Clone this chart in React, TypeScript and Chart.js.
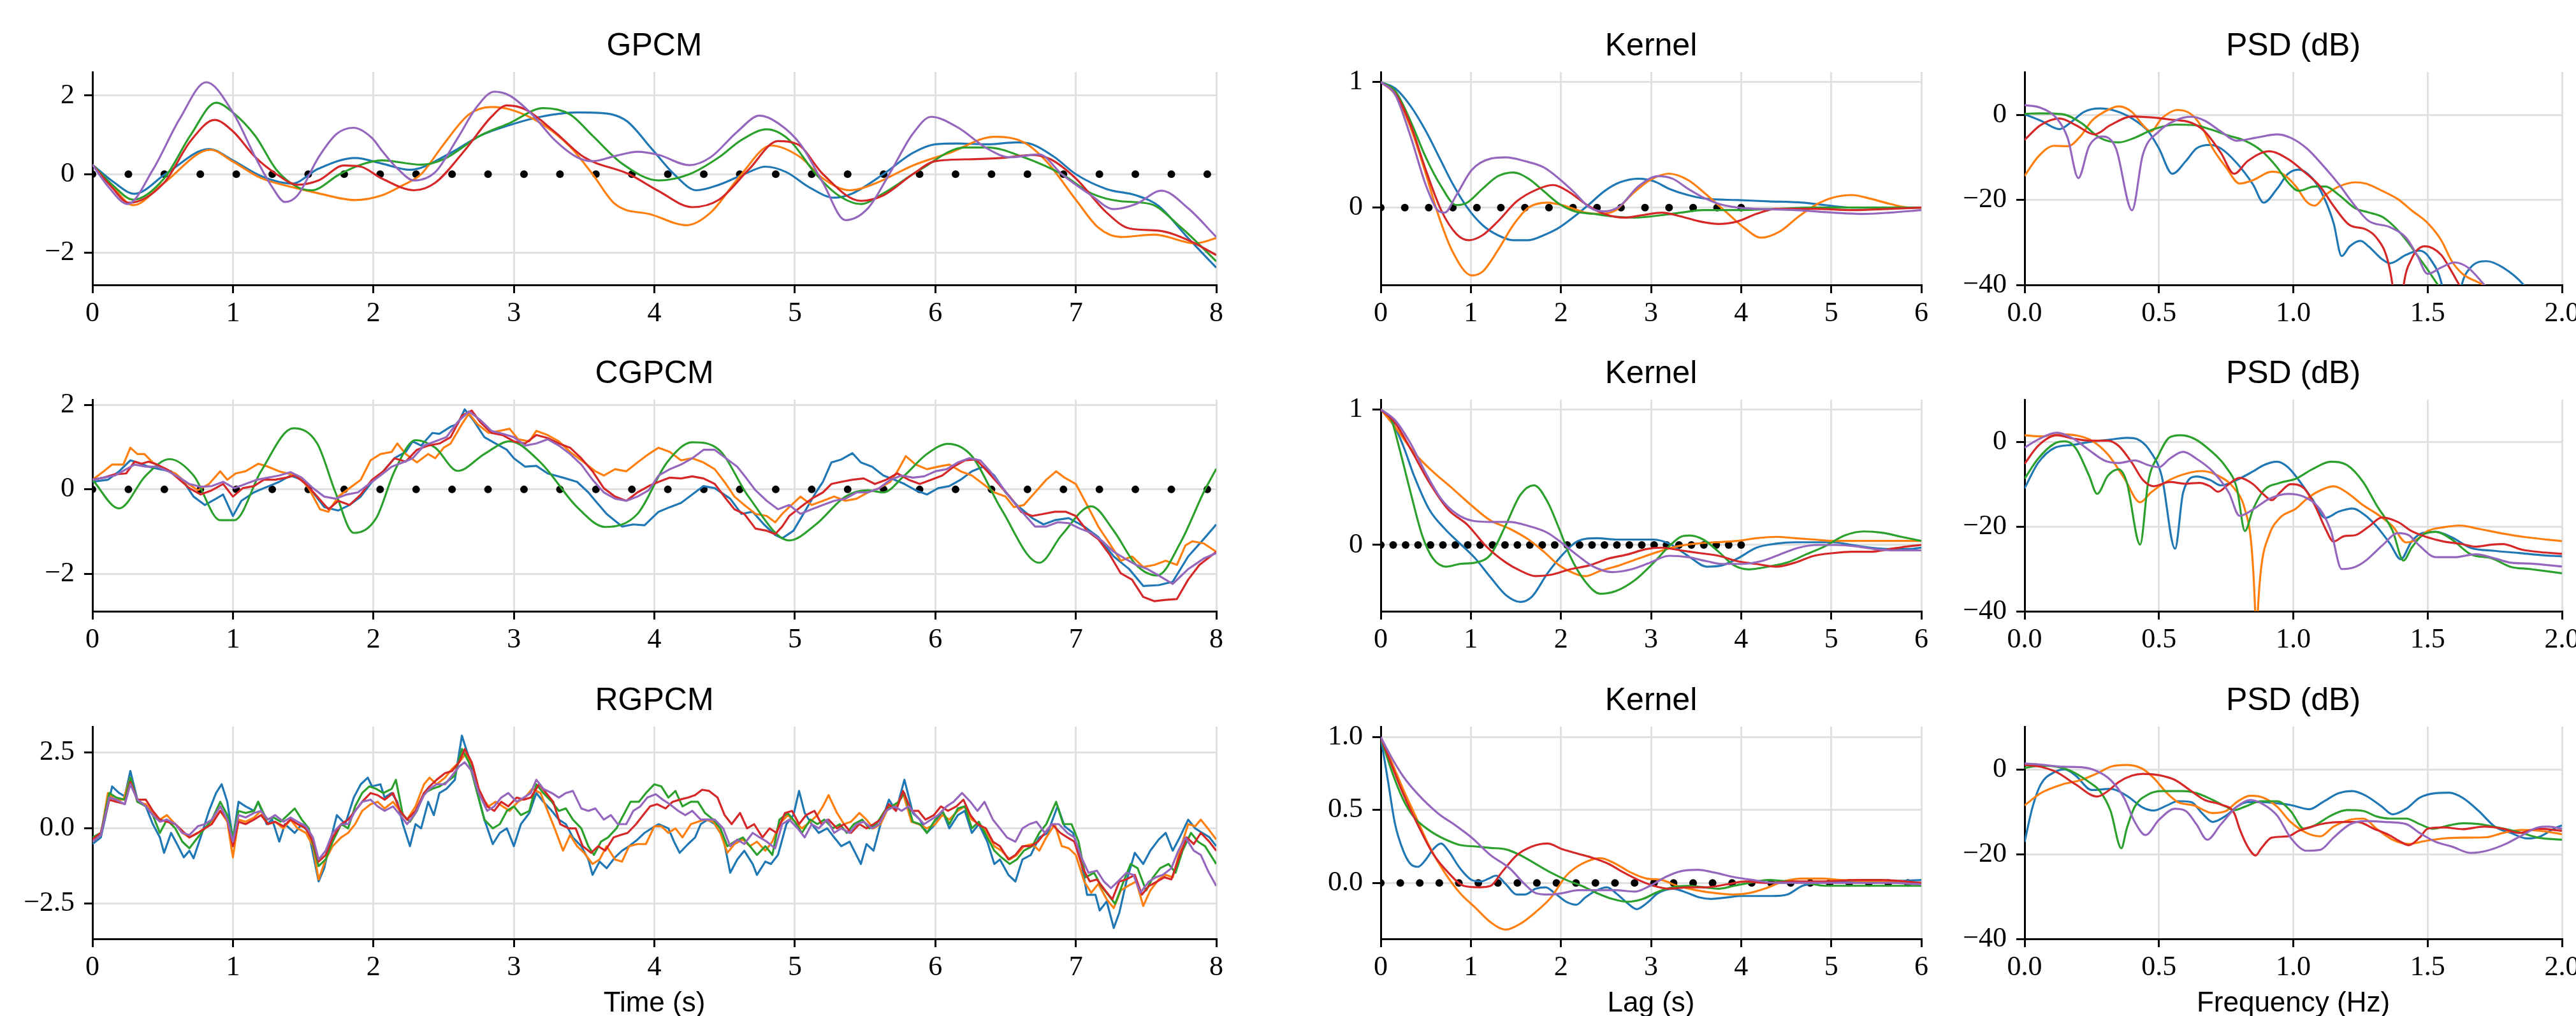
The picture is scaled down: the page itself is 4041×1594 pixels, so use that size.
import React, { useEffect, useRef } from 'react';
import { Chart, registerables } from 'chart.js';
Chart.register(...registerables);

type P = [number, number][];

// ---------------- GPCM (time) ----------------
const gpcmBlue: P = [[0,0.24],[0.15,-0.2],[0.3,-0.5],[0.52,0],[0.83,0.64],[1.0,0.35],[1.2,-0.05],[1.42,-0.24],[1.61,0.14],[1.87,0.41],[2.06,0.27],[2.26,0.11],[2.55,0.54],[2.76,0.98],[2.97,1.25],[3.19,1.46],[3.45,1.57],[3.61,1.56],[3.8,1.36],[3.98,0.65],[4.14,0],[4.3,-0.41],[4.46,-0.27],[4.67,0.05],[4.79,0.19],[4.94,0.05],[5.1,-0.33],[5.28,-0.6],[5.41,-0.49],[5.63,0],[5.84,0.54],[6.0,0.76],[6.16,0.78],[6.37,0.76],[6.58,0.81],[6.69,0.76],[6.85,0.43],[7.0,0],[7.22,-0.38],[7.43,-0.54],[7.59,-0.81],[7.8,-1.63],[8.0,-2.38]];
const gpcmOrange: P = [[0,0.24],[0.15,-0.35],[0.29,-0.79],[0.51,-0.22],[0.84,0.62],[1.0,0.32],[1.2,-0.1],[1.42,-0.33],[1.61,-0.49],[1.87,-0.66],[2.06,-0.54],[2.2,-0.3],[2.34,0],[2.5,0.76],[2.68,1.52],[2.84,1.71],[2.97,1.65],[3.19,1.3],[3.4,0.7],[3.56,0],[3.72,-0.76],[3.98,-1.03],[4.23,-1.3],[4.4,-0.98],[4.62,0],[4.83,0.73],[5.04,0.43],[5.2,-0.11],[5.39,-0.41],[5.57,-0.24],[5.84,0.22],[6.1,0.54],[6.42,0.95],[6.63,0.81],[6.79,0.33],[7.0,-0.65],[7.16,-1.36],[7.32,-1.6],[7.56,-1.54],[7.85,-1.76],[8.0,-1.63]];
const gpcmGreen: P = [[0,0.24],[0.15,-0.3],[0.29,-0.65],[0.51,-0.11],[0.7,1.0],[0.88,1.82],[1.0,1.57],[1.16,0.97],[1.31,0.11],[1.46,-0.33],[1.56,-0.41],[1.76,0],[1.91,0.24],[2.06,0.35],[2.34,0.24],[2.5,0.38],[2.76,0.98],[2.97,1.3],[3.21,1.68],[3.4,1.52],[3.56,0.98],[3.77,0.27],[4.03,-0.16],[4.25,0],[4.46,0.43],[4.62,0.87],[4.8,1.14],[4.96,0.87],[5.15,0],[5.31,-0.54],[5.47,-0.76],[5.63,-0.49],[5.89,0.11],[6.21,0.68],[6.37,0.68],[6.63,0.43],[6.9,0],[7.11,-0.49],[7.32,-0.69],[7.53,-0.76],[7.75,-1.36],[8.0,-2.22]];
const gpcmRed: P = [[0,0.24],[0.13,-0.3],[0.26,-0.73],[0.51,-0.22],[0.7,0.85],[0.87,1.38],[1.0,1.09],[1.16,0.43],[1.31,0],[1.46,-0.27],[1.61,-0.16],[1.79,0.22],[1.91,0.19],[2.06,-0.11],[2.29,-0.41],[2.44,-0.22],[2.66,0.65],[2.84,1.46],[2.95,1.75],[3.08,1.65],[3.29,1.08],[3.5,0.43],[3.82,0],[4.03,-0.43],[4.27,-0.84],[4.46,-0.65],[4.67,0.11],[4.88,0.84],[5.02,0.76],[5.2,0],[5.47,-0.68],[5.63,-0.54],[5.84,0],[6.0,0.33],[6.26,0.38],[6.47,0.41],[6.69,0.49],[6.82,0.38],[7.0,-0.11],[7.22,-0.98],[7.38,-1.38],[7.59,-1.44],[7.8,-1.68],[8.0,-2.06]];
const gpcmPurple: P = [[0,0.24],[0.12,-0.35],[0.25,-0.76],[0.43,0.11],[0.62,1.4],[0.81,2.34],[1.0,1.57],[1.16,0.43],[1.28,-0.33],[1.37,-0.71],[1.46,-0.54],[1.61,0.43],[1.74,1.03],[1.86,1.18],[1.99,0.92],[2.06,0.6],[2.18,0.11],[2.29,-0.16],[2.44,0.05],[2.6,0.92],[2.74,1.73],[2.86,2.1],[2.97,2.0],[3.13,1.52],[3.29,0.87],[3.45,0.43],[3.56,0.33],[3.72,0.46],[3.88,0.57],[4.03,0.49],[4.25,0.23],[4.4,0.43],[4.59,1.08],[4.75,1.49],[4.88,1.3],[5.04,0.76],[5.2,-0.22],[5.36,-1.17],[5.52,-0.87],[5.68,0.05],[5.84,1.03],[5.97,1.46],[6.16,1.19],[6.37,0.65],[6.53,0.43],[6.74,0.5],[6.9,0],[7.11,-0.54],[7.27,-0.89],[7.43,-0.76],[7.61,-0.42],[7.8,-0.87],[8.0,-1.6]];
const gpcmInducing = [0,0.256,0.512,0.768,1.024,1.28,1.536,1.792,2.048,2.304,2.56,2.816,3.072,3.328,3.584,3.84,4.096,4.352,4.608,4.864,5.12,5.376,5.632,5.888,6.144,6.4,6.656,6.912,7.168,7.424,7.68,7.936];

// ---------------- CGPCM (time) ----------------
const cgpcmBlue: P = [[0,0.18],[0.11,0.23],[0.19,0.43],[0.27,0.69],[0.32,0.64],[0.4,0.54],[0.48,0.48],[0.56,0.43],[0.64,0.23],[0.72,-0.17],[0.8,-0.37],[0.88,-0.22],[0.93,-0.12],[1.0,-0.63],[1.06,-0.27],[1.15,-0.07],[1.22,0.03],[1.33,0.18],[1.41,0.33],[1.49,0.23],[1.57,-0.07],[1.65,-0.42],[1.75,-0.5],[1.83,-0.37],[1.91,-0.17],[1.99,0.18],[2.07,0.43],[2.15,0.74],[2.23,0.89],[2.28,1.14],[2.34,1.04],[2.42,1.34],[2.47,1.32],[2.55,1.49],[2.6,1.55],[2.65,1.9],[2.71,1.65],[2.79,1.24],[2.87,1.09],[2.95,0.94],[3.0,0.74],[3.08,0.54],[3.16,0.56],[3.24,0.38],[3.35,0.28],[3.45,0.18],[3.53,-0.07],[3.58,-0.27],[3.66,-0.58],[3.77,-0.88],[3.85,-0.83],[3.93,-0.85],[4.03,-0.53],[4.11,-0.42],[4.19,-0.32],[4.27,-0.12],[4.35,0.08],[4.43,0.03],[4.54,-0.22],[4.62,-0.58],[4.7,-0.53],[4.78,-0.83],[4.86,-1.08],[4.91,-1.16],[4.99,-0.98],[5.07,-0.53],[5.15,-0.07],[5.2,0.18],[5.26,0.64],[5.33,0.71],[5.41,0.86],[5.47,0.64],[5.55,0.54],[5.63,0.33],[5.71,0.23],[5.78,0.13],[5.86,-0.02],[5.94,-0.12],[6.02,0.03],[6.1,0.08],[6.18,0.23],[6.26,0.43],[6.34,0.54],[6.42,0.33],[6.5,-0.07],[6.58,-0.37],[6.69,-0.68],[6.77,-0.83],[6.85,-0.73],[6.95,-0.68],[7.06,-0.88],[7.16,-1.13],[7.27,-1.59],[7.38,-1.89],[7.48,-2.29],[7.59,-2.27],[7.69,-2.19],[7.8,-1.59],[7.91,-1.18],[8.0,-0.83]];
const cgpcmOrange: P = [[0,0.23],[0.08,0.43],[0.14,0.59],[0.22,0.59],[0.27,0.99],[0.32,0.84],[0.37,0.84],[0.43,0.64],[0.51,0.48],[0.59,0.38],[0.66,0.18],[0.75,-0.02],[0.83,0.13],[0.91,0.43],[0.96,0.23],[1.02,0.38],[1.09,0.43],[1.18,0.61],[1.25,0.54],[1.33,0.43],[1.41,0.36],[1.46,0.33],[1.54,0.03],[1.62,-0.47],[1.68,-0.53],[1.75,-0.17],[1.83,0.03],[1.91,0.23],[1.98,0.69],[2.05,0.84],[2.13,0.89],[2.17,1.09],[2.23,0.84],[2.31,0.64],[2.39,0.84],[2.44,0.74],[2.5,0.99],[2.55,1.09],[2.63,1.55],[2.68,1.8],[2.74,1.55],[2.82,1.34],[2.9,1.39],[2.97,1.44],[3.03,1.19],[3.11,1.14],[3.16,1.39],[3.24,1.29],[3.32,1.14],[3.4,0.89],[3.5,0.64],[3.58,0.43],[3.64,0.33],[3.72,0.48],[3.8,0.43],[3.88,0.64],[3.96,0.84],[4.03,0.99],[4.11,0.89],[4.19,0.69],[4.27,0.74],[4.35,0.64],[4.43,0.48],[4.51,0.13],[4.57,-0.17],[4.64,-0.37],[4.72,-0.58],[4.8,-0.63],[4.86,-0.78],[4.91,-0.58],[4.96,-0.42],[5.04,-0.17],[5.12,-0.37],[5.2,-0.27],[5.28,-0.17],[5.36,-0.27],[5.44,-0.22],[5.52,-0.07],[5.6,0.03],[5.68,0.18],[5.73,0.43],[5.79,0.79],[5.86,0.59],[5.94,0.48],[6.02,0.54],[6.1,0.59],[6.18,0.43],[6.26,0.33],[6.34,0.13],[6.42,-0.07],[6.5,-0.17],[6.56,-0.42],[6.63,-0.37],[6.71,-0.07],[6.79,0.23],[6.86,0.43],[6.92,0.28],[7.0,0.13],[7.08,-0.37],[7.16,-0.88],[7.24,-1.28],[7.32,-1.69],[7.4,-1.59],[7.48,-1.84],[7.56,-1.79],[7.64,-1.69],[7.72,-1.79],[7.78,-1.33],[7.83,-1.23],[7.91,-1.28],[8.0,-1.48]];
const cgpcmGreen: P = [[0,0.23],[0.19,-0.45],[0.38,0.33],[0.55,0.72],[0.72,0.33],[0.91,-0.73],[1.01,-0.73],[1.2,0.43],[1.43,1.45],[1.6,1.09],[1.73,-0.07],[1.86,-1.03],[2.02,-0.68],[2.15,0.43],[2.3,1.17],[2.44,0.99],[2.6,0.44],[2.79,0.84],[2.97,1.14],[3.19,0.64],[3.45,-0.42],[3.65,-0.89],[3.88,-0.58],[4.09,0.64],[4.27,1.12],[4.46,0.94],[4.67,-0.17],[4.96,-1.21],[5.15,-0.83],[5.36,-0.17],[5.52,-0.02],[5.63,-0.07],[5.78,0.33],[5.94,0.84],[6.09,1.08],[6.26,0.79],[6.47,-0.47],[6.74,-1.74],[6.9,-1.08],[7.11,-0.4],[7.27,-0.98],[7.43,-1.79],[7.58,-2.04],[7.75,-1.23],[7.91,-0.07],[8.0,0.49]];
const cgpcmRed: P = [[0,0.23],[0.08,0.28],[0.16,0.36],[0.24,0.38],[0.3,0.66],[0.35,0.61],[0.4,0.66],[0.46,0.59],[0.54,0.46],[0.62,0.23],[0.69,0.03],[0.77,-0.12],[0.85,-0.02],[0.93,0.13],[1.0,-0.17],[1.07,0.03],[1.15,0.08],[1.22,0.23],[1.3,0.23],[1.38,0.28],[1.44,0.33],[1.52,0.13],[1.6,-0.17],[1.68,-0.47],[1.75,-0.27],[1.83,-0.37],[1.91,-0.12],[1.99,0.23],[2.07,0.43],[2.15,0.74],[2.23,0.66],[2.31,0.94],[2.39,1.04],[2.47,1.09],[2.55,1.24],[2.63,1.75],[2.7,1.87],[2.76,1.6],[2.84,1.34],[2.92,1.29],[3.0,1.14],[3.08,1.09],[3.16,1.29],[3.24,1.22],[3.32,1.09],[3.4,0.99],[3.48,0.74],[3.56,0.43],[3.64,0.03],[3.72,-0.17],[3.8,-0.27],[3.88,-0.07],[3.96,0.08],[4.03,0.18],[4.11,0.28],[4.19,0.26],[4.27,0.31],[4.35,0.26],[4.43,0.13],[4.51,-0.22],[4.57,-0.47],[4.64,-0.58],[4.72,-0.93],[4.8,-0.98],[4.86,-1.06],[4.91,-0.88],[4.96,-0.63],[5.04,-0.42],[5.12,-0.22],[5.2,-0.07],[5.26,0.13],[5.33,0.18],[5.41,0.23],[5.49,0.26],[5.57,0.13],[5.65,0.23],[5.73,0.38],[5.81,0.23],[5.89,0.13],[5.97,0.23],[6.05,0.33],[6.13,0.54],[6.21,0.69],[6.29,0.71],[6.37,0.43],[6.45,0.13],[6.53,-0.17],[6.61,-0.53],[6.69,-0.63],[6.77,-0.58],[6.85,-0.53],[6.93,-0.53],[7.0,-0.63],[7.08,-0.98],[7.16,-1.18],[7.24,-1.54],[7.32,-1.99],[7.4,-2.14],[7.48,-2.55],[7.56,-2.65],[7.64,-2.62],[7.72,-2.6],[7.8,-2.14],[7.88,-1.79],[8.0,-1.48]];
const cgpcmPurple: P = [[0,0.23],[0.08,0.28],[0.16,0.33],[0.24,0.48],[0.3,0.59],[0.38,0.54],[0.46,0.54],[0.54,0.43],[0.62,0.28],[0.69,0.13],[0.77,0.06],[0.85,0.08],[0.93,0.18],[1.01,0.03],[1.09,0.13],[1.17,0.23],[1.25,0.28],[1.33,0.33],[1.41,0.41],[1.49,0.28],[1.57,0.03],[1.65,-0.17],[1.73,-0.22],[1.81,-0.12],[1.89,-0.07],[1.97,0.13],[2.05,0.33],[2.13,0.54],[2.21,0.64],[2.28,0.74],[2.36,1.04],[2.44,1.14],[2.52,1.24],[2.6,1.6],[2.68,1.85],[2.76,1.65],[2.84,1.39],[2.92,1.32],[3.0,1.24],[3.08,1.04],[3.16,1.09],[3.24,1.19],[3.32,1.04],[3.4,0.84],[3.48,0.59],[3.56,0.23],[3.64,-0.07],[3.72,-0.22],[3.8,-0.27],[3.88,-0.17],[3.96,-0.02],[4.03,0.33],[4.11,0.48],[4.19,0.59],[4.27,0.74],[4.35,0.94],[4.43,0.94],[4.51,0.74],[4.59,0.54],[4.64,0.33],[4.72,-0.02],[4.8,-0.27],[4.88,-0.47],[4.96,-0.37],[5.04,-0.58],[5.12,-0.47],[5.2,-0.37],[5.28,-0.27],[5.36,-0.22],[5.44,-0.07],[5.52,-0.07],[5.6,0.03],[5.68,0.23],[5.76,0.33],[5.84,0.28],[5.92,0.31],[6.0,0.43],[6.08,0.48],[6.16,0.64],[6.24,0.74],[6.32,0.69],[6.39,0.43],[6.47,0.08],[6.55,-0.27],[6.63,-0.58],[6.71,-0.88],[6.79,-0.88],[6.87,-0.78],[6.95,-0.8],[7.03,-0.93],[7.11,-1.03],[7.19,-1.23],[7.27,-1.48],[7.35,-1.64],[7.43,-1.79],[7.51,-1.89],[7.59,-2.04],[7.69,-2.24],[7.8,-1.89],[7.91,-1.64],[8.0,-1.51]];

// ---------------- RGPCM (time) ----------------
const rgpcmBlue: P = [[0,-0.53],[0.06,-0.31],[0.14,1.38],[0.19,1.16],[0.23,1.05],[0.27,1.89],[0.32,0.94],[0.38,0.72],[0.43,0.13],[0.48,-0.31],[0.51,-0.82],[0.56,-0.16],[0.61,-0.6],[0.65,-0.97],[0.69,-0.75],[0.72,-1.0],[0.77,-0.31],[0.83,0.57],[0.88,1.16],[0.92,1.45],[0.96,0.87],[1.0,-0.38],[1.04,0.87],[1.09,0.72],[1.15,0.57],[1.18,0.87],[1.24,0.13],[1.28,0.28],[1.33,-0.45],[1.37,0.13],[1.44,-0.16],[1.49,0.13],[1.54,-0.16],[1.61,-1.77],[1.65,-1.33],[1.7,-0.31],[1.74,0.43],[1.8,0.13],[1.86,1.01],[1.91,1.45],[1.96,1.67],[1.99,1.38],[2.05,1.45],[2.08,1.01],[2.13,1.16],[2.17,0.87],[2.21,0.13],[2.26,-0.6],[2.3,0.13],[2.34,-0.01],[2.39,0.87],[2.43,0.43],[2.47,1.16],[2.52,1.3],[2.58,1.6],[2.63,3.06],[2.68,2.33],[2.74,1.16],[2.79,0.28],[2.85,-0.53],[2.9,-0.16],[2.95,-0.01],[3.0,-0.6],[3.05,0.13],[3.11,0.5],[3.16,1.16],[3.21,0.87],[3.27,0.57],[3.32,0.28],[3.37,0.13],[3.42,-0.31],[3.48,-0.6],[3.53,-1.04],[3.56,-1.55],[3.61,-1.11],[3.66,-1.33],[3.72,-0.97],[3.77,-0.75],[3.82,-0.6],[3.88,-0.38],[3.93,-0.16],[3.98,-0.01],[4.03,0.13],[4.1,-0.01],[4.14,-0.45],[4.18,-0.82],[4.24,-0.53],[4.29,-0.31],[4.33,0.13],[4.38,0.28],[4.43,0.13],[4.49,-0.31],[4.54,-1.48],[4.59,-1.04],[4.64,-0.75],[4.7,-1.19],[4.73,-1.55],[4.79,-1.11],[4.83,-1.19],[4.88,-0.89],[4.94,0.13],[4.99,0.43],[5.03,1.23],[5.07,0.5],[5.12,0.13],[5.17,-0.16],[5.23,-0.01],[5.28,-0.31],[5.33,-0.6],[5.39,-0.45],[5.43,-0.82],[5.47,-1.19],[5.51,-0.53],[5.56,-0.75],[5.61,0.13],[5.67,0.94],[5.72,0.57],[5.78,1.6],[5.84,0.5],[5.89,0.28],[5.94,-0.16],[6.0,0.13],[6.05,0.57],[6.1,-0.01],[6.16,0.43],[6.21,0.57],[6.26,-0.16],[6.31,0.13],[6.37,-0.45],[6.42,-1.19],[6.46,-1.04],[6.52,-1.55],[6.57,-1.77],[6.62,-1.04],[6.68,-0.89],[6.74,-0.31],[6.8,-0.16],[6.87,0.72],[6.92,0.06],[6.98,-0.16],[7.03,-0.89],[7.08,-2.21],[7.14,-2.21],[7.17,-2.73],[7.22,-2.43],[7.27,-3.31],[7.31,-2.8],[7.36,-1.77],[7.42,-0.82],[7.48,-1.19],[7.53,-0.75],[7.59,-0.38],[7.64,-0.16],[7.69,-0.75],[7.74,-0.31],[7.8,0.28],[7.85,-0.01],[7.9,-0.16],[7.95,-0.3],[8.0,-0.6]];
const rgpcmOrange: P = [[0,-0.45],[0.06,-0.23],[0.11,1.16],[0.16,0.94],[0.22,0.94],[0.27,1.67],[0.32,0.87],[0.38,0.79],[0.43,0.5],[0.48,0.28],[0.53,0.43],[0.59,0.13],[0.64,-0.16],[0.69,-0.31],[0.75,-0.16],[0.8,-0.01],[0.85,0.21],[0.91,0.57],[0.96,0.21],[1.0,-0.97],[1.04,0.28],[1.09,0.21],[1.15,0.35],[1.2,0.57],[1.25,0.13],[1.3,0.21],[1.36,-0.01],[1.41,0.28],[1.46,-0.01],[1.52,-0.16],[1.57,-0.6],[1.61,-1.7],[1.66,-1.04],[1.71,-0.6],[1.77,-0.31],[1.82,-0.16],[1.87,0.13],[1.92,0.57],[1.98,0.79],[2.03,0.87],[2.08,0.65],[2.14,0.87],[2.19,0.57],[2.24,0.28],[2.3,0.72],[2.36,1.45],[2.4,1.67],[2.45,1.45],[2.51,1.67],[2.56,1.96],[2.61,2.18],[2.66,2.48],[2.71,2.04],[2.76,1.09],[2.82,0.72],[2.87,0.87],[2.92,0.72],[2.97,0.57],[3.03,0.87],[3.08,1.01],[3.13,1.3],[3.19,1.16],[3.24,0.57],[3.29,-0.01],[3.35,-0.75],[3.4,-0.23],[3.45,-0.6],[3.5,-0.82],[3.56,-1.19],[3.61,-1.04],[3.66,-0.6],[3.72,-1.04],[3.77,-1.11],[3.82,-0.6],[3.88,-0.53],[3.94,-0.53],[4.0,0.06],[4.05,0.06],[4.1,-0.16],[4.15,-0.01],[4.2,-0.31],[4.26,0.13],[4.31,0.21],[4.36,0.28],[4.42,0.21],[4.47,-0.16],[4.52,-0.82],[4.57,-0.53],[4.63,-0.38],[4.68,-0.6],[4.73,-0.45],[4.79,-0.75],[4.84,-0.45],[4.89,0.13],[4.95,0.43],[5.0,0.21],[5.05,-0.01],[5.11,0.21],[5.16,0.43],[5.2,0.72],[5.24,1.09],[5.3,0.5],[5.35,0.13],[5.4,0.21],[5.46,0.5],[5.51,0.28],[5.56,-0.01],[5.61,0.13],[5.67,0.72],[5.72,0.72],[5.77,1.16],[5.83,0.21],[5.88,0.13],[5.94,-0.01],[6.0,0.13],[6.05,0.43],[6.1,0.28],[6.16,0.57],[6.21,0.72],[6.26,0.28],[6.31,0.13],[6.37,-0.16],[6.42,-0.6],[6.47,-0.75],[6.53,-1.04],[6.58,-0.89],[6.63,-0.6],[6.69,-0.53],[6.74,-0.75],[6.79,-0.31],[6.85,0.13],[6.9,-0.6],[6.95,-0.67],[7.0,-0.89],[7.06,-1.77],[7.11,-2.14],[7.16,-1.85],[7.22,-2.36],[7.27,-2.65],[7.32,-2.07],[7.37,-1.92],[7.43,-1.77],[7.48,-2.58],[7.53,-2.07],[7.59,-1.7],[7.64,-1.55],[7.69,-1.63],[7.75,-0.6],[7.8,0.13],[7.85,0.06],[7.89,0.28],[7.94,-0.01],[8.0,-0.38]];
const rgpcmGreen: P = [[0,-0.31],[0.06,-0.16],[0.12,1.16],[0.17,1.01],[0.23,0.94],[0.27,1.67],[0.32,0.87],[0.38,0.72],[0.43,0.43],[0.48,-0.16],[0.53,0.28],[0.59,-0.01],[0.64,-0.45],[0.69,-0.67],[0.75,-0.31],[0.8,-0.01],[0.85,0.28],[0.91,0.87],[0.96,0.43],[1.0,-0.31],[1.04,0.57],[1.09,0.5],[1.15,0.57],[1.18,0.87],[1.24,0.28],[1.29,0.35],[1.34,0.21],[1.39,0.43],[1.44,0.65],[1.49,0.28],[1.54,-0.01],[1.61,-1.26],[1.66,-1.04],[1.71,-0.45],[1.77,0.13],[1.82,-0.01],[1.87,0.72],[1.92,1.16],[1.97,1.38],[2.02,1.3],[2.07,1.16],[2.13,1.3],[2.16,1.6],[2.21,0.43],[2.26,0.21],[2.31,0.57],[2.36,1.16],[2.42,1.3],[2.47,1.38],[2.52,1.52],[2.58,1.74],[2.63,2.62],[2.68,2.18],[2.74,1.16],[2.79,0.28],[2.85,-0.01],[2.9,0.13],[2.95,0.57],[3.0,0.72],[3.05,0.43],[3.11,0.57],[3.16,1.45],[3.21,1.16],[3.27,0.87],[3.32,0.57],[3.37,0.65],[3.42,0.28],[3.48,-0.01],[3.53,-0.6],[3.57,-0.89],[3.62,-0.45],[3.67,-0.31],[3.73,-0.01],[3.78,0.43],[3.83,0.87],[3.89,0.87],[3.94,1.16],[4.0,1.45],[4.05,1.38],[4.1,1.01],[4.15,1.23],[4.2,0.72],[4.26,0.87],[4.31,0.87],[4.36,0.5],[4.42,0.28],[4.47,-0.01],[4.52,-0.6],[4.57,-0.45],[4.63,-0.31],[4.68,-0.6],[4.73,-0.89],[4.79,-0.6],[4.84,-0.89],[4.89,0.28],[4.95,0.5],[5.0,0.21],[5.05,-0.16],[5.11,0.28],[5.16,0.13],[5.21,0.28],[5.27,-0.01],[5.32,0.13],[5.37,-0.16],[5.42,0.13],[5.48,0.28],[5.53,-0.01],[5.58,0.13],[5.64,0.57],[5.69,0.72],[5.74,0.87],[5.78,1.16],[5.84,0.21],[5.89,0.13],[5.94,-0.16],[6.0,0.28],[6.05,0.57],[6.1,0.13],[6.16,0.65],[6.21,0.72],[6.26,-0.01],[6.31,0.21],[6.37,-0.31],[6.42,-0.75],[6.47,-0.97],[6.53,-1.19],[6.58,-1.04],[6.63,-0.75],[6.69,-0.6],[6.74,-0.16],[6.79,0.13],[6.86,0.87],[6.91,0.13],[6.97,0.13],[7.02,-0.45],[7.07,-1.63],[7.13,-1.48],[7.18,-1.92],[7.23,-2.21],[7.28,-2.51],[7.34,-1.77],[7.39,-1.19],[7.44,-1.33],[7.5,-2.07],[7.55,-1.63],[7.6,-1.33],[7.66,-1.19],[7.71,-1.48],[7.76,-0.75],[7.82,-0.16],[7.87,-0.45],[7.92,-0.6],[8.0,-1.19]];
const rgpcmRed: P = [[0,-0.38],[0.06,-0.16],[0.12,0.94],[0.17,0.87],[0.23,0.8],[0.27,1.52],[0.32,0.94],[0.38,0.94],[0.43,0.57],[0.48,0.28],[0.53,0.21],[0.59,0.13],[0.64,-0.09],[0.69,-0.31],[0.75,-0.16],[0.8,-0.01],[0.85,0.13],[0.91,0.57],[0.96,0.28],[1.0,-0.6],[1.04,0.21],[1.09,0.13],[1.15,0.28],[1.2,0.43],[1.25,0.13],[1.3,0.21],[1.36,0.06],[1.41,0.28],[1.46,0.13],[1.52,-0.01],[1.57,-0.45],[1.61,-1.11],[1.66,-0.89],[1.71,-0.31],[1.77,0.13],[1.82,0.28],[1.87,0.57],[1.92,0.87],[1.98,1.16],[2.03,1.09],[2.08,0.94],[2.14,1.16],[2.19,0.57],[2.24,0.28],[2.3,0.57],[2.36,1.16],[2.4,1.38],[2.45,1.6],[2.51,1.82],[2.56,1.89],[2.61,2.18],[2.65,2.62],[2.7,2.18],[2.75,1.3],[2.81,0.72],[2.86,0.57],[2.91,0.87],[2.96,0.72],[3.02,1.01],[3.07,0.94],[3.12,1.01],[3.18,1.45],[3.23,1.16],[3.28,0.87],[3.33,0.13],[3.39,-0.01],[3.44,-0.01],[3.49,-0.6],[3.55,-0.82],[3.6,-0.6],[3.65,-0.75],[3.71,-0.31],[3.76,-0.23],[3.81,-0.16],[3.87,0.13],[3.92,0.43],[3.97,0.72],[4.02,0.79],[4.08,0.65],[4.13,0.87],[4.18,0.94],[4.24,1.01],[4.29,1.09],[4.34,1.27],[4.39,1.23],[4.45,1.01],[4.5,0.43],[4.55,0.13],[4.61,0.5],[4.66,-0.01],[4.71,0.13],[4.77,-0.31],[4.82,-0.01],[4.87,-0.16],[4.93,0.5],[4.98,0.57],[5.03,0.13],[5.08,0.43],[5.14,0.57],[5.19,0.13],[5.24,0.28],[5.3,-0.01],[5.35,0.13],[5.4,-0.16],[5.46,0.13],[5.51,-0.01],[5.56,0.13],[5.61,0.28],[5.67,0.79],[5.72,0.57],[5.77,1.23],[5.83,0.57],[5.88,0.57],[5.93,0.28],[5.99,0.43],[6.04,0.72],[6.09,0.57],[6.15,0.72],[6.2,0.94],[6.25,0.43],[6.3,0.13],[6.36,-0.01],[6.41,-0.45],[6.46,-0.6],[6.52,-1.04],[6.57,-0.89],[6.62,-0.6],[6.68,-0.6],[6.73,-0.45],[6.78,-0.16],[6.83,0.13],[6.89,-0.16],[6.94,-0.31],[6.99,-0.45],[7.05,-1.33],[7.1,-1.77],[7.15,-1.7],[7.21,-2.07],[7.26,-2.36],[7.31,-1.77],[7.36,-1.7],[7.42,-1.55],[7.47,-2.21],[7.52,-1.92],[7.58,-1.77],[7.63,-1.63],[7.68,-1.7],[7.73,-1.04],[7.79,-0.31],[7.84,-0.53],[7.89,-0.16],[7.95,-0.45],[8.0,-0.75]];
const rgpcmPurple: P = [[0,-0.45],[0.06,-0.23],[0.12,1.01],[0.17,0.94],[0.23,0.79],[0.27,1.45],[0.32,0.94],[0.38,0.72],[0.43,0.43],[0.48,0.21],[0.53,0.28],[0.59,0.13],[0.64,-0.16],[0.69,-0.23],[0.75,0.06],[0.8,0.13],[0.85,0.28],[0.91,0.72],[0.96,0.28],[1.0,-0.45],[1.04,0.43],[1.09,0.35],[1.15,0.5],[1.2,0.57],[1.25,0.28],[1.3,0.43],[1.36,0.21],[1.41,0.35],[1.46,0.21],[1.52,0.06],[1.57,-0.31],[1.61,-1.04],[1.66,-0.75],[1.71,-0.16],[1.77,0.13],[1.82,0.13],[1.87,0.57],[1.92,0.87],[1.98,0.94],[2.03,0.72],[2.08,0.57],[2.14,0.72],[2.19,0.43],[2.24,0.13],[2.3,0.5],[2.36,1.09],[2.4,1.3],[2.45,1.45],[2.51,1.45],[2.56,1.74],[2.61,2.04],[2.65,2.18],[2.7,1.89],[2.75,1.16],[2.81,0.57],[2.86,0.72],[2.91,1.01],[2.96,1.16],[3.02,0.87],[3.07,1.01],[3.12,1.16],[3.16,1.6],[3.21,1.3],[3.27,1.16],[3.32,1.01],[3.37,1.16],[3.42,1.23],[3.48,0.65],[3.53,0.57],[3.58,0.65],[3.64,0.28],[3.69,0.43],[3.74,0.13],[3.8,0.13],[3.85,0.57],[3.9,0.72],[3.95,1.01],[4.01,1.12],[4.06,0.94],[4.11,0.79],[4.17,0.57],[4.22,0.43],[4.27,0.57],[4.33,0.28],[4.38,0.28],[4.43,0.28],[4.49,-0.01],[4.54,-0.6],[4.59,-0.38],[4.64,-0.53],[4.7,-0.16],[4.75,-0.31],[4.8,-0.45],[4.86,-0.67],[4.91,0.13],[4.96,0.28],[5.02,-0.01],[5.07,-0.31],[5.12,0.13],[5.17,-0.01],[5.23,0.28],[5.28,-0.16],[5.33,-0.01],[5.39,-0.16],[5.44,0.13],[5.49,0.21],[5.55,-0.01],[5.6,0.13],[5.65,0.57],[5.71,0.72],[5.76,0.57],[5.81,0.72],[5.86,0.43],[5.92,0.13],[5.97,0.28],[6.02,0.43],[6.08,0.72],[6.13,0.87],[6.19,1.16],[6.25,0.87],[6.3,0.57],[6.35,0.87],[6.41,0.28],[6.46,-0.01],[6.51,-0.31],[6.57,-0.45],[6.62,-0.01],[6.67,0.13],[6.72,0.21],[6.78,-0.16],[6.83,0.13],[6.88,0.13],[6.94,-0.16],[6.99,-0.31],[7.04,-0.97],[7.09,-1.48],[7.15,-1.41],[7.2,-1.77],[7.25,-1.99],[7.3,-1.77],[7.36,-1.48],[7.41,-1.55],[7.46,-2.14],[7.52,-1.77],[7.57,-1.63],[7.62,-1.55],[7.68,-1.33],[7.73,-0.75],[7.78,-0.31],[7.84,-0.75],[7.89,-0.89],[7.94,-1.41],[8.0,-1.92]];

// ---------------- Kernels ----------------
const kGpcmBlue: P = [[0,1],[0.16,0.95],[0.33,0.81],[0.5,0.61],[0.67,0.37],[0.79,0.2],[0.96,0],[1.13,-0.14],[1.3,-0.22],[1.47,-0.26],[1.64,-0.26],[1.81,-0.22],[1.98,-0.16],[2.15,-0.07],[2.32,0.03],[2.48,0.13],[2.65,0.2],[2.86,0.23],[3.03,0.21],[3.2,0.15],[3.41,0.1],[3.62,0.07],[3.96,0.06],[4.3,0.05],[4.68,0.04],[4.93,0.02],[5.23,0],[5.65,0],[6.0,0]];
const kGpcmOrange: P = [[0,1],[0.16,0.9],[0.33,0.64],[0.5,0.27],[0.63,-0.04],[0.79,-0.34],[1.01,-0.54],[1.13,-0.51],[1.3,-0.34],[1.47,-0.14],[1.64,0],[1.85,0.04],[2.06,0.01],[2.27,-0.04],[2.44,-0.05],[2.61,-0.02],[2.78,0.1],[2.99,0.22],[3.2,0.27],[3.41,0.22],[3.62,0.1],[3.84,-0.04],[4.05,-0.17],[4.22,-0.24],[4.43,-0.19],[4.64,-0.07],[4.85,0.03],[5.02,0.08],[5.23,0.1],[5.44,0.07],[5.65,0.03],[5.86,0],[6.0,0]];
const kGpcmGreen: P = [[0,1],[0.16,0.93],[0.33,0.69],[0.5,0.4],[0.67,0.17],[0.84,0.02],[0.96,0.04],[1.13,0.15],[1.3,0.25],[1.47,0.28],[1.64,0.23],[1.81,0.13],[1.98,0.03],[2.15,-0.03],[2.36,-0.05],[2.57,-0.07],[2.82,-0.08],[3.12,-0.06],[3.33,-0.04],[3.58,-0.02],[3.96,-0.02],[4.39,-0.01],[4.81,0],[5.44,0],[6.0,0]];
const kGpcmRed: P = [[0,1],[0.16,0.91],[0.33,0.66],[0.5,0.3],[0.67,-0.02],[0.84,-0.21],[0.98,-0.26],[1.13,-0.22],[1.3,-0.11],[1.51,0.05],[1.72,0.14],[1.91,0.18],[2.1,0.12],[2.27,0.03],[2.48,-0.05],[2.7,-0.08],[2.91,-0.06],[3.12,-0.04],[3.33,-0.07],[3.54,-0.11],[3.75,-0.13],[3.96,-0.11],[4.17,-0.05],[4.39,-0.01],[4.81,-0.01],[5.23,-0.02],[5.65,-0.01],[6.0,0]];
const kGpcmPurple: P = [[0,1],[0.16,0.9],[0.33,0.57],[0.5,0.18],[0.63,-0.02],[0.71,-0.04],[0.84,0.1],[1.01,0.3],[1.22,0.39],[1.39,0.4],[1.6,0.37],[1.81,0.32],[1.98,0.23],[2.15,0.12],[2.32,0],[2.48,-0.03],[2.65,0.01],[2.86,0.17],[3.08,0.25],[3.24,0.23],[3.41,0.15],[3.58,0.08],[3.75,0.03],[3.96,0],[4.17,-0.01],[4.6,-0.02],[5.02,-0.04],[5.36,-0.05],[5.65,-0.04],[6.0,-0.02]];
const kGpcmInducing = [0,0.267,0.533,0.8,1.067,1.333,1.6,1.867,2.133,2.4,2.667,2.933,3.2,3.467,3.733,4.0];

const kCgpcmBlue: P = [[0,1],[0.12,0.92],[0.25,0.73],[0.37,0.51],[0.54,0.26],[0.71,0.12],[0.88,0.01],[1.05,-0.1],[1.22,-0.24],[1.39,-0.37],[1.55,-0.42],[1.68,-0.38],[1.85,-0.21],[2.02,-0.07],[2.19,0.03],[2.4,0.05],[2.61,0.04],[2.82,0.04],[3.03,0.04],[3.2,0.01],[3.41,-0.08],[3.62,-0.16],[3.79,-0.15],[3.96,-0.1],[4.17,-0.02],[4.39,0.01],[4.6,0.02],[4.81,0.02],[5.02,0.02],[5.23,0],[5.44,-0.02],[5.65,-0.03],[5.86,-0.03],[6.0,-0.02]];
const kCgpcmOrange: P = [[0,1],[0.16,0.87],[0.37,0.68],[0.58,0.54],[0.79,0.42],[1.01,0.29],[1.22,0.18],[1.43,0.12],[1.64,0.04],[1.81,-0.05],[1.98,-0.15],[2.15,-0.21],[2.27,-0.23],[2.44,-0.19],[2.65,-0.15],[2.86,-0.1],[3.08,-0.05],[3.29,-0.01],[3.5,0.01],[3.71,0.02],[3.96,0.03],[4.17,0.05],[4.39,0.06],[4.6,0.05],[4.81,0.04],[5.02,0.03],[5.44,0.03],[6.0,0.03]];
const kCgpcmGreen: P = [[0,1],[0.12,0.92],[0.2,0.73],[0.33,0.39],[0.46,0.07],[0.58,-0.1],[0.73,-0.16],[0.88,-0.14],[1.05,-0.13],[1.22,-0.07],[1.39,0.15],[1.55,0.37],[1.7,0.44],[1.85,0.32],[1.98,0.12],[2.1,-0.08],[2.27,-0.27],[2.44,-0.36],[2.61,-0.34],[2.82,-0.26],[3.03,-0.13],[3.2,-0.01],[3.33,0.06],[3.43,0.07],[3.58,0.04],[3.75,-0.05],[3.92,-0.15],[4.09,-0.18],[4.3,-0.16],[4.51,-0.13],[4.72,-0.07],[4.93,-0.01],[5.15,0.07],[5.36,0.1],[5.57,0.09],[5.78,0.06],[6.0,0.03]];
const kCgpcmRed: P = [[0,1],[0.16,0.9],[0.33,0.71],[0.54,0.46],[0.75,0.26],[0.96,0.15],[1.17,-0.01],[1.39,-0.13],[1.55,-0.19],[1.72,-0.23],[1.89,-0.22],[2.1,-0.18],[2.32,-0.15],[2.53,-0.1],[2.74,-0.07],[2.95,-0.03],[3.12,-0.02],[3.33,-0.04],[3.54,-0.06],[3.75,-0.08],[3.96,-0.12],[4.17,-0.14],[4.39,-0.16],[4.6,-0.13],[4.81,-0.08],[5.02,-0.06],[5.23,-0.05],[5.44,-0.05],[5.65,-0.03],[5.86,-0.01],[6.0,0]];
const kCgpcmPurple: P = [[0,1],[0.16,0.92],[0.33,0.75],[0.5,0.53],[0.67,0.34],[0.84,0.23],[1.01,0.18],[1.22,0.17],[1.43,0.17],[1.64,0.14],[1.85,0.09],[2.02,0.01],[2.19,-0.08],[2.36,-0.16],[2.57,-0.2],[2.78,-0.18],[2.99,-0.13],[3.2,-0.08],[3.41,-0.09],[3.62,-0.12],[3.79,-0.14],[4.0,-0.14],[4.22,-0.12],[4.43,-0.07],[4.64,-0.02],[4.85,0],[5.06,0],[5.27,-0.01],[5.48,-0.03],[5.7,-0.04],[6.0,-0.04]];
const kCgpcmInducing = [0,0.138,0.276,0.414,0.552,0.69,0.828,0.966,1.103,1.241,1.379,1.517,1.655,1.793,1.931,2.069,2.207,2.345,2.483,2.621,2.759,2.897,3.034,3.172,3.31,3.448,3.586,3.724,3.862,4.0];

const kRgpcmBlue: P = [[0,1],[0.08,0.7],[0.16,0.4],[0.25,0.22],[0.33,0.13],[0.41,0.11],[0.5,0.16],[0.58,0.23],[0.67,0.27],[0.75,0.22],[0.88,0.1],[1.01,0.02],[1.11,0.01],[1.2,0.03],[1.28,0.05],[1.39,-0.01],[1.51,-0.08],[1.6,-0.08],[1.72,-0.04],[1.83,-0.03],[1.93,-0.07],[2.06,-0.13],[2.17,-0.15],[2.27,-0.1],[2.4,-0.05],[2.51,-0.03],[2.61,-0.07],[2.74,-0.14],[2.84,-0.18],[2.95,-0.14],[3.08,-0.07],[3.24,-0.04],[3.41,-0.07],[3.54,-0.1],[3.67,-0.11],[3.84,-0.1],[4.0,-0.09],[4.17,-0.09],[4.34,-0.09],[4.51,-0.08],[4.68,-0.02],[4.85,0],[5.02,0.01],[5.23,0.01],[5.44,0],[5.65,0.01],[6.0,0.02]];
const kRgpcmOrange: P = [[0,1],[0.12,0.83],[0.25,0.64],[0.37,0.48],[0.54,0.25],[0.71,0.07],[0.88,-0.07],[1.05,-0.17],[1.22,-0.27],[1.39,-0.32],[1.55,-0.28],[1.72,-0.2],[1.89,-0.1],[2.06,0.05],[2.23,0.13],[2.44,0.17],[2.61,0.13],[2.78,0.07],[2.95,0.03],[3.12,0.02],[3.29,-0.02],[3.5,-0.05],[3.71,-0.07],[3.92,-0.08],[4.09,-0.07],[4.26,-0.04],[4.47,0.01],[4.68,0.03],[4.89,0.03],[5.1,0.02],[5.44,0.01],[6.0,0]];
const kRgpcmGreen: P = [[0,1],[0.12,0.77],[0.25,0.57],[0.37,0.45],[0.54,0.36],[0.71,0.3],[0.88,0.26],[1.05,0.25],[1.22,0.24],[1.39,0.23],[1.55,0.19],[1.72,0.13],[1.89,0.07],[2.06,0.02],[2.23,-0.02],[2.4,-0.07],[2.57,-0.11],[2.74,-0.13],[2.91,-0.11],[3.08,-0.06],[3.24,-0.03],[3.41,-0.02],[3.58,-0.03],[3.75,-0.04],[3.92,-0.02],[4.09,0],[4.3,0.02],[4.51,0.01],[4.72,0],[4.93,-0.02],[5.15,-0.02],[5.36,-0.02],[5.65,-0.02],[6.0,-0.02]];
const kRgpcmRed: P = [[0,1],[0.12,0.81],[0.25,0.61],[0.41,0.4],[0.58,0.2],[0.75,0.07],[0.92,-0.02],[1.09,-0.03],[1.22,-0.02],[1.34,0.07],[1.51,0.19],[1.68,0.25],[1.85,0.27],[2.02,0.23],[2.19,0.2],[2.36,0.17],[2.53,0.13],[2.7,0.07],[2.86,0.02],[3.03,-0.02],[3.2,-0.04],[3.41,-0.03],[3.62,-0.03],[3.84,-0.01],[4.05,0.01],[4.26,0],[4.6,0.01],[4.93,0.01],[5.27,0.02],[5.57,0.02],[6.0,0]];
const kRgpcmPurple: P = [[0,1],[0.12,0.86],[0.25,0.73],[0.41,0.61],[0.63,0.48],[0.84,0.39],[1.01,0.31],[1.22,0.19],[1.43,0.1],[1.6,-0.01],[1.72,-0.07],[1.87,-0.08],[2.02,-0.07],[2.19,-0.05],[2.4,-0.05],[2.61,-0.05],[2.82,-0.06],[2.99,-0.02],[3.16,0.04],[3.33,0.08],[3.52,0.09],[3.71,0.07],[3.92,0.04],[4.13,0.02],[4.39,0],[4.81,0],[5.23,0],[5.65,0],[6.0,-0.01]];
const kRgpcmInducing = [0,0.217,0.433,0.65,0.867,1.083,1.3,1.517,1.733,1.95,2.167,2.383,2.6,2.817,3.033,3.25,3.467,3.683,3.9,4.117,4.333,4.55,4.767,4.983,5.2,5.417,5.633,5.85];

// ---------------- PSD (dB) ----------------
const psdGpcmBlue: P = [[0,0.25],[0.06,-1.26],[0.13,-3.27],[0.18,-1.26],[0.22,0.75],[0.28,1.6],[0.34,1.0],[0.4,-0.75],[0.46,-3.77],[0.5,-7.8],[0.55,-13.8],[0.6,-10.8],[0.64,-7.8],[0.69,-7.0],[0.73,-7.8],[0.79,-11.3],[0.85,-16.3],[0.89,-20.6],[0.94,-17.3],[0.98,-13.8],[1.02,-12.8],[1.07,-14.8],[1.11,-18.8],[1.15,-25.4],[1.18,-33.2],[1.21,-30.9],[1.25,-29.6],[1.28,-30.9],[1.33,-33.9],[1.36,-34.9],[1.42,-32.9],[1.47,-31.9],[1.51,-33.9],[1.555,-40.5],[1.59,-55],[1.625,-40.5],[1.66,-35.9],[1.72,-34.4],[1.78,-35.9],[1.86,-40.2],[1.92,-46],[2.0,-55]];
const psdGpcmOrange: P = [[0,-14.3],[0.05,-9.8],[0.11,-7.2],[0.16,-7.3],[0.21,-4.8],[0.25,-1.3],[0.31,1.26],[0.35,2.1],[0.4,0.75],[0.44,-2.3],[0.47,-3.8],[0.51,-0.75],[0.57,1.26],[0.62,0.25],[0.66,-2.8],[0.7,-7.8],[0.75,-12.3],[0.8,-16.1],[0.85,-15.3],[0.92,-13.3],[0.96,-13.8],[1.01,-16.8],[1.05,-20.4],[1.08,-21.3],[1.12,-18.8],[1.17,-16.8],[1.23,-15.8],[1.27,-16.1],[1.33,-17.8],[1.39,-19.8],[1.44,-22.4],[1.5,-25.4],[1.55,-29.4],[1.59,-34.4],[1.63,-37.4],[1.71,-40.2],[1.8,-46],[2.0,-58]];
const psdGpcmGreen: P = [[0,0.35],[0.06,0.45],[0.14,0.25],[0.21,-1.76],[0.28,-5.3],[0.35,-6.4],[0.41,-5.3],[0.48,-3.3],[0.56,-2.2],[0.63,-2.3],[0.69,-3.3],[0.76,-4.8],[0.82,-6.0],[0.88,-8.3],[0.94,-12.3],[0.98,-15.8],[1.02,-17.8],[1.08,-16.8],[1.12,-16.8],[1.17,-18.8],[1.23,-21.9],[1.28,-22.9],[1.33,-23.9],[1.37,-25.9],[1.42,-29.4],[1.46,-32.9],[1.5,-36.4],[1.54,-40.2],[1.6,-46],[2.0,-60]];
const psdGpcmRed: P = [[0,-5.8],[0.06,-2.3],[0.13,-0.75],[0.19,-2.3],[0.26,-4.5],[0.32,-2.3],[0.4,-0.25],[0.47,-0.5],[0.54,-1.0],[0.62,-1.76],[0.67,-3.8],[0.73,-8.8],[0.78,-13.8],[0.83,-10.8],[0.91,-8.5],[0.98,-10.3],[1.04,-13.3],[1.1,-16.8],[1.15,-21.4],[1.21,-25.9],[1.27,-26.9],[1.31,-28.9],[1.35,-33.9],[1.37,-40.5],[1.39,-55],[1.41,-40.5],[1.44,-33.9],[1.49,-30.9],[1.55,-32.9],[1.59,-36.9],[1.62,-40.2],[1.7,-47],[2.0,-60]];
const psdGpcmPurple: P = [[0,2.4],[0.06,1.76],[0.12,-0.75],[0.16,-5.3],[0.2,-14.8],[0.24,-7.3],[0.29,-5.0],[0.34,-7.8],[0.4,-22.4],[0.44,-9.3],[0.5,-3.8],[0.56,-1.26],[0.62,-0.35],[0.67,-1.26],[0.73,-3.8],[0.79,-6.0],[0.86,-5.3],[0.94,-4.5],[0.99,-5.3],[1.05,-7.8],[1.11,-11.8],[1.17,-16.3],[1.23,-21.4],[1.28,-24.9],[1.36,-26.4],[1.42,-28.9],[1.46,-32.9],[1.5,-37.4],[1.55,-35.9],[1.6,-34.7],[1.65,-35.9],[1.71,-39.9],[1.8,-46],[2.0,-60]];

const psdCgpcmBlue: P = [[0,-10.9],[0.05,-4.9],[0.11,-1.36],[0.18,-0.6],[0.25,0.15],[0.32,0.65],[0.38,1.06],[0.43,0.4],[0.47,-2.36],[0.51,-7.9],[0.56,-25.2],[0.59,-11.9],[0.64,-8.1],[0.69,-8.9],[0.73,-10.2],[0.79,-8.9],[0.85,-6.9],[0.89,-5.4],[0.94,-4.6],[0.98,-5.9],[1.02,-8.9],[1.07,-13.4],[1.12,-17.9],[1.17,-16.4],[1.22,-15.7],[1.27,-17.4],[1.31,-19.9],[1.36,-24.0],[1.4,-27.7],[1.44,-23.5],[1.48,-21.5],[1.53,-21.2],[1.59,-22.5],[1.66,-25.0],[1.75,-25.7],[1.84,-26.2],[1.92,-26.7],[2.0,-27.0]];
const psdCgpcmOrange: P = [[0,1.66],[0.06,1.4],[0.14,1.9],[0.19,1.66],[0.25,0.4],[0.31,-2.86],[0.37,-8.4],[0.43,-14.2],[0.47,-11.9],[0.54,-8.9],[0.62,-7.1],[0.66,-6.8],[0.72,-7.9],[0.78,-10.9],[0.82,-15.9],[0.845,-25],[0.858,-40],[0.862,-50],[0.868,-40],[0.88,-30],[0.91,-22],[0.95,-17.9],[1.01,-15.7],[1.05,-13.4],[1.1,-11.4],[1.15,-10.4],[1.2,-11.9],[1.26,-14.9],[1.31,-16.9],[1.37,-19.9],[1.42,-23.7],[1.46,-23.0],[1.5,-21.0],[1.56,-20.1],[1.62,-19.7],[1.69,-20.5],[1.78,-21.6],[1.87,-22.5],[2.0,-23.4]];
const psdCgpcmGreen: P = [[0,-8.6],[0.05,-3.9],[0.11,-0.35],[0.15,0.25],[0.19,-1.36],[0.24,-7.9],[0.27,-12.2],[0.31,-7.9],[0.35,-6.4],[0.38,-9.4],[0.43,-24.2],[0.46,-9.4],[0.5,-2.86],[0.54,1.16],[0.58,1.66],[0.63,0.9],[0.69,-1.86],[0.75,-5.9],[0.79,-10.9],[0.82,-21.0],[0.85,-15.9],[0.89,-11.4],[0.95,-9.6],[1.01,-8.6],[1.07,-6.4],[1.14,-4.6],[1.2,-5.4],[1.26,-9.4],[1.31,-14.9],[1.37,-21.0],[1.41,-28.0],[1.44,-25.0],[1.48,-22.0],[1.53,-21.2],[1.59,-23.0],[1.66,-26.5],[1.74,-27.5],[1.81,-29.5],[1.88,-30.0],[2.0,-31.0]];
const psdCgpcmRed: P = [[0,-5.1],[0.05,-0.85],[0.12,1.66],[0.18,0.9],[0.24,0.4],[0.31,0.4],[0.35,-0.85],[0.4,-4.9],[0.44,-8.9],[0.48,-10.4],[0.54,-9.4],[0.6,-9.8],[0.65,-9.6],[0.69,-10.4],[0.72,-11.7],[0.76,-9.9],[0.8,-8.4],[0.85,-9.9],[0.89,-12.4],[0.92,-13.7],[0.95,-11.9],[0.99,-9.9],[1.04,-10.9],[1.08,-14.9],[1.12,-20.5],[1.15,-23.5],[1.19,-22.2],[1.23,-22.0],[1.28,-20.0],[1.33,-17.8],[1.39,-18.9],[1.44,-21.0],[1.5,-22.5],[1.56,-23.5],[1.62,-24.0],[1.68,-24.7],[1.74,-24.2],[1.78,-24.1],[1.85,-25.4],[1.92,-26.0],[2.0,-26.4]];
const psdCgpcmPurple: P = [[0,-1.26],[0.05,0.65],[0.12,2.26],[0.18,0.9],[0.24,-1.86],[0.3,-4.4],[0.35,-4.9],[0.41,-4.3],[0.46,-5.4],[0.5,-5.9],[0.54,-3.9],[0.59,-2.26],[0.64,-3.9],[0.7,-6.9],[0.76,-11.9],[0.8,-17.4],[0.85,-15.9],[0.91,-13.4],[0.98,-12.2],[1.04,-12.9],[1.1,-15.9],[1.14,-21.0],[1.18,-30.0],[1.23,-29.5],[1.27,-28.0],[1.33,-24.5],[1.39,-21.5],[1.43,-22.0],[1.47,-24.5],[1.53,-27.2],[1.6,-27.2],[1.68,-26.5],[1.75,-27.5],[1.81,-28.5],[1.88,-28.7],[2.0,-29.4]];

const psdRgpcmBlue: P = [[0,-17.1],[0.03,-8.8],[0.06,-3.55],[0.11,-0.68],[0.15,0],[0.19,-1.46],[0.25,-4.86],[0.32,-4.6],[0.38,-6.2],[0.44,-9.0],[0.48,-9.7],[0.53,-8.5],[0.57,-7.5],[0.62,-7.7],[0.66,-10.3],[0.7,-12.4],[0.75,-10.9],[0.79,-8.8],[0.83,-7.7],[0.88,-7.7],[0.94,-8.0],[0.99,-8.4],[1.06,-9.4],[1.11,-7.7],[1.17,-5.6],[1.22,-5.1],[1.27,-6.2],[1.33,-8.8],[1.37,-10.6],[1.42,-9.3],[1.47,-6.7],[1.53,-5.6],[1.58,-5.5],[1.63,-6.7],[1.69,-9.8],[1.75,-13.5],[1.81,-15.0],[1.87,-16.3],[1.92,-15.8],[1.97,-14.0],[2.0,-13.2]];
const psdRgpcmOrange: P = [[0,-8.5],[0.06,-5.6],[0.14,-3.55],[0.21,-2.5],[0.27,-0.94],[0.32,0.63],[0.38,1.04],[0.44,0.1],[0.48,-2.0],[0.53,-5.6],[0.57,-7.7],[0.63,-8.5],[0.7,-10.3],[0.75,-9.8],[0.79,-7.7],[0.84,-6.2],[0.89,-6.7],[0.94,-8.8],[0.99,-12.4],[1.05,-15.0],[1.1,-15.8],[1.15,-13.5],[1.21,-11.9],[1.26,-11.6],[1.31,-14.0],[1.37,-16.6],[1.43,-17.6],[1.49,-16.9],[1.56,-16.3],[1.63,-16.1],[1.72,-16.0],[1.78,-15.0],[1.85,-14.3],[1.92,-14.5],[2.0,-15.3]];
const psdRgpcmGreen: P = [[0,0.37],[0.06,0.9],[0.14,0.37],[0.19,-0.94],[0.24,-3.0],[0.28,-5.1],[0.32,-9.8],[0.36,-18.6],[0.38,-14.0],[0.41,-8.8],[0.46,-5.9],[0.51,-5.1],[0.59,-5.1],[0.64,-5.6],[0.7,-7.2],[0.75,-8.8],[0.78,-9.6],[0.82,-8.8],[0.88,-7.5],[0.94,-7.5],[0.99,-9.8],[1.04,-14.0],[1.08,-13.2],[1.14,-10.9],[1.2,-9.6],[1.26,-9.8],[1.31,-11.1],[1.36,-11.6],[1.42,-11.6],[1.47,-12.9],[1.52,-14.0],[1.58,-13.2],[1.63,-12.7],[1.69,-12.9],[1.76,-13.7],[1.84,-14.8],[1.91,-16.1],[2.0,-16.6]];
const psdRgpcmRed: P = [[0,1.04],[0.06,0.63],[0.12,-0.68],[0.19,-3.55],[0.27,-6.4],[0.31,-5.1],[0.35,-3.0],[0.4,-1.46],[0.44,-1.04],[0.5,-1.36],[0.56,-2.5],[0.62,-5.1],[0.67,-7.2],[0.73,-8.3],[0.78,-10.3],[0.8,-14.0],[0.83,-18.2],[0.86,-20.3],[0.88,-18.7],[0.92,-16.1],[0.98,-15.8],[1.02,-14.5],[1.07,-13.5],[1.12,-12.7],[1.18,-12.4],[1.24,-12.4],[1.3,-14.0],[1.36,-15.6],[1.4,-17.1],[1.43,-17.9],[1.47,-16.1],[1.5,-14.0],[1.56,-13.7],[1.63,-14.1],[1.71,-13.5],[1.78,-14.0],[1.84,-15.0],[1.91,-14.0],[2.0,-14.5]];
const psdRgpcmPurple: P = [[0,1.4],[0.06,1.15],[0.14,0.63],[0.21,0.52],[0.27,-0.42],[0.32,-2.5],[0.37,-6.7],[0.41,-12.4],[0.45,-15.5],[0.5,-11.9],[0.56,-9.3],[0.6,-9.8],[0.64,-13.0],[0.68,-16.6],[0.73,-13.0],[0.79,-8.8],[0.84,-7.2],[0.89,-8.3],[0.94,-10.9],[0.99,-16.1],[1.05,-19.2],[1.1,-19.0],[1.15,-16.1],[1.21,-13.0],[1.27,-12.2],[1.34,-12.4],[1.42,-12.9],[1.47,-15.0],[1.53,-17.1],[1.59,-18.2],[1.66,-19.7],[1.72,-19.2],[1.79,-17.6],[1.85,-15.6],[1.91,-13.7],[1.95,-13.5],[2.0,-14.0]];

// ---------------- Axis ticks ----------------
const timeTicks = [0, 1, 2, 3, 4, 5, 6, 7, 8];
const timeTickLabels = ['0', '1', '2', '3', '4', '5', '6', '7', '8'];
const lagTicks = [0, 1, 2, 3, 4, 5, 6];
const lagTickLabels = ['0', '1', '2', '3', '4', '5', '6'];
const freqTicks = [0, 0.5, 1, 1.5, 2];
const freqTickLabels = ['0.0', '0.5', '1.0', '1.5', '2.0'];
const y2Ticks = [-2, 0, 2];
const y2TickLabels = ['\u22122', '0', '2'];
const y25Ticks = [-2.5, 0, 2.5];
const y25TickLabels = ['\u22122.5', '0.0', '2.5'];
const kTicks = [0, 1];
const kTickLabels = ['0', '1'];
const kHalfTicks = [0, 0.5, 1];
const kHalfTickLabels = ['0.0', '0.5', '1.0'];
const dbTicks = [-40, -20, 0];
const dbTickLabels = ['\u221240', '\u221220', '0'];

const COLORS = ['#1f77b4', '#ff7f0e', '#2ca02c', '#d62728', '#9467bd'];
const SERIF = "'Liberation Serif', 'DejaVu Serif', serif";
const SANS = "'Liberation Sans', 'DejaVu Sans', sans-serif";
const GRID = '#e0e0e0';

// ---------------- Layout (pixel geometry of each axes) ----------------
const COLS = [
  { left: 145, right: 1908, padRight: 40 },
  { left: 2166, right: 3014, padRight: 40 },
  { left: 3176, right: 4019, padRight: 22 },
];
const ROWS = [
  { top: 113, bottom: 447, xh: 80 },
  { top: 627, bottom: 959, xh: 80 },
  { top: 1140, bottom: 1473, xh: 121 },
];
const YW = 130;
const TITLE_H = 80;

interface PanelDef {
  title: string; col: number; row: number;
  xMin: number; xMax: number; yMin: number; yMax: number;
  xTicks: number[]; xLabels: string[]; yTicks: number[]; yLabels: string[];
  series: P[]; smooth: boolean[]; dots?: number[]; xTitle?: string;
}

const S = [true, true, true, true, true];
const J = [false, false, false, false, false];

const PANELS: PanelDef[] = [
  { title: 'GPCM', col: 0, row: 0, xMin: 0, xMax: 8, yMin: -2.82, yMax: 2.6, xTicks: timeTicks, xLabels: timeTickLabels, yTicks: y2Ticks, yLabels: y2TickLabels, series: [gpcmBlue, gpcmOrange, gpcmGreen, gpcmRed, gpcmPurple], smooth: S, dots: gpcmInducing },
  { title: 'CGPCM', col: 0, row: 1, xMin: 0, xMax: 8, yMin: -2.89, yMax: 2.13, xTicks: timeTicks, xLabels: timeTickLabels, yTicks: y2Ticks, yLabels: y2TickLabels, series: [cgpcmBlue, cgpcmOrange, cgpcmGreen, cgpcmRed, cgpcmPurple], smooth: [false, false, true, false, false], dots: gpcmInducing },
  { title: 'RGPCM', col: 0, row: 2, xMin: 0, xMax: 8, yMin: -3.67, yMax: 3.36, xTicks: timeTicks, xLabels: timeTickLabels, yTicks: y25Ticks, yLabels: y25TickLabels, series: [rgpcmBlue, rgpcmOrange, rgpcmGreen, rgpcmRed, rgpcmPurple], smooth: J, xTitle: 'Time (s)' },
  { title: 'Kernel', col: 1, row: 0, xMin: 0, xMax: 6, yMin: -0.616, yMax: 1.08, xTicks: lagTicks, xLabels: lagTickLabels, yTicks: kTicks, yLabels: kTickLabels, series: [kGpcmBlue, kGpcmOrange, kGpcmGreen, kGpcmRed, kGpcmPurple], smooth: S, dots: kGpcmInducing },
  { title: 'Kernel', col: 1, row: 1, xMin: 0, xMax: 6, yMin: -0.489, yMax: 1.072, xTicks: lagTicks, xLabels: lagTickLabels, yTicks: kTicks, yLabels: kTickLabels, series: [kCgpcmBlue, kCgpcmOrange, kCgpcmGreen, kCgpcmRed, kCgpcmPurple], smooth: S, dots: kCgpcmInducing },
  { title: 'Kernel', col: 1, row: 2, xMin: 0, xMax: 6, yMin: -0.384, yMax: 1.072, xTicks: lagTicks, xLabels: lagTickLabels, yTicks: kHalfTicks, yLabels: kHalfTickLabels, series: [kRgpcmBlue, kRgpcmOrange, kRgpcmGreen, kRgpcmRed, kRgpcmPurple], smooth: S, dots: kRgpcmInducing, xTitle: 'Lag (s)' },
  { title: 'PSD (dB)', col: 2, row: 0, xMin: 0, xMax: 2, yMin: -40, yMax: 10.2, xTicks: freqTicks, xLabels: freqTickLabels, yTicks: dbTicks, yLabels: dbTickLabels, series: [psdGpcmBlue, psdGpcmOrange, psdGpcmGreen, psdGpcmRed, psdGpcmPurple], smooth: S },
  { title: 'PSD (dB)', col: 2, row: 1, xMin: 0, xMax: 2, yMin: -40, yMax: 10.1, xTicks: freqTicks, xLabels: freqTickLabels, yTicks: dbTicks, yLabels: dbTickLabels, series: [psdCgpcmBlue, psdCgpcmOrange, psdCgpcmGreen, psdCgpcmRed, psdCgpcmPurple], smooth: S },
  { title: 'PSD (dB)', col: 2, row: 2, xMin: 0, xMax: 2, yMin: -40, yMax: 10.1, xTicks: freqTicks, xLabels: freqTickLabels, yTicks: dbTicks, yLabels: dbTickLabels, series: [psdRgpcmBlue, psdRgpcmOrange, psdRgpcmGreen, psdRgpcmRed, psdRgpcmPurple], smooth: S, xTitle: 'Frequency (Hz)' },
];

function geometry(def: PanelDef) {
  const c = COLS[def.col];
  const r = ROWS[def.row];
  const left = c.left - YW;
  const top = r.top - TITLE_H;
  const width = YW + (c.right - c.left) + c.padRight;
  const height = TITLE_H + (r.bottom - r.top) + r.xh;
  return { left, top, width, height, padRight: c.padRight, xh: r.xh };
}

function buildConfig(def: PanelDef, g: ReturnType<typeof geometry>): any {
  const tickFont = { family: SERIF, size: 44, lineHeight: 1.2 };
  const datasets: any[] = [];
  // lines: purple first (on top), blue last
  for (let i = def.series.length - 1; i >= 0; i--) {
    datasets.push({
      data: def.series[i].map(([x, y]) => ({ x, y })),
      borderColor: COLORS[i],
      borderWidth: 3.2,
      pointRadius: 0,
      fill: false,
      cubicInterpolationMode: def.smooth[i] ? 'monotone' : 'default',
      tension: 0,
      borderJoinStyle: 'round',
    });
  }
  // inducing points sit beneath the lines (matplotlib scatter zorder 1)
  if (def.dots) {
    datasets.push({
      data: def.dots.map((x) => ({ x, y: 0 })),
      showLine: false,
      pointRadius: 6,
      pointBackgroundColor: '#000',
      pointBorderWidth: 0,
      borderColor: '#000',
    });
  }
  const common = (ticks: number[], labels: string[]) => ({
    afterBuildTicks: (s: any) => { s.ticks = ticks.map((v) => ({ value: v })); },
    ticks: {
      callback: (_v: any, i: number) => labels[i],
      font: tickFont, color: '#000', autoSkip: false, maxRotation: 0, minRotation: 0,
    },
    grid: { color: GRID, lineWidth: 3, tickColor: '#000', tickWidth: 3, tickLength: 13, drawTicks: true, drawOnChartArea: true },
    border: { display: true, color: '#000', width: 3 },
  });
  const x: any = {
    type: 'linear', position: 'bottom', min: def.xMin, max: def.xMax,
    ...common(def.xTicks, def.xLabels),
    afterFit: (s: any) => { s.height = g.xh; s.paddingLeft = 0; s.paddingRight = 0; },
    title: def.xTitle
      ? { display: true, text: def.xTitle, color: '#000', font: { family: SANS, size: 44, lineHeight: 0.8 }, padding: { top: 0, bottom: 2 } }
      : { display: false },
  };
  x.ticks.padding = 6;
  const y: any = {
    type: 'linear', position: 'left', min: def.yMin, max: def.yMax,
    ...common(def.yTicks, def.yLabels),
    afterFit: (s: any) => { s.width = YW; s.paddingTop = 0; s.paddingBottom = 0; },
  };
  y.ticks.padding = 15;
  return {
    type: 'line',
    data: { datasets },
    options: {
      animation: false,
      responsive: false,
      maintainAspectRatio: false,
      devicePixelRatio: 1,
      layout: { padding: { left: 0, right: g.padRight, top: 0, bottom: 0 } },
      plugins: {
        legend: { display: false },
        tooltip: { enabled: false },
        title: {
          display: true, text: def.title, color: '#000', fullSize: false,
          font: { family: SANS, size: 50, lineHeight: 1.2, weight: 'normal' },
          padding: { top: 10, bottom: 10 },
        },
      },
      scales: { x, y },
    },
  };
}

function Panel({ def }: { def: PanelDef }) {
  const ref = useRef<HTMLCanvasElement>(null);
  const g = geometry(def);
  useEffect(() => {
    const chart = new Chart(ref.current as HTMLCanvasElement, buildConfig(def, g));
    return () => chart.destroy();
  }, []);
  return (
    <canvas
      ref={ref}
      width={g.width}
      height={g.height}
      style={{ position: 'absolute', left: g.left, top: g.top, width: g.width, height: g.height }}
    />
  );
}

export default function App() {
  return (
    <div style={{ position: 'absolute', left: 0, top: 0, width: 4041, height: 1594, background: '#fff', overflow: 'hidden' }}>
      {PANELS.map((p, i) => <Panel key={i} def={p} />)}
    </div>
  );
}
